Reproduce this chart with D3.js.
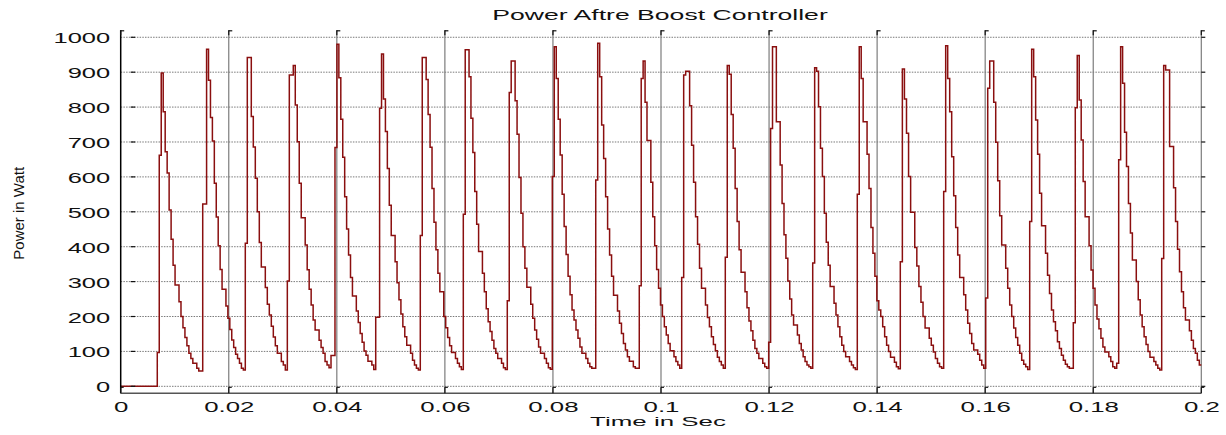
<!DOCTYPE html>
<html>
<head>
<meta charset="utf-8">
<script src="https://cdn.jsdelivr.net/npm/d3@7"></script>
<style>
  html, body { margin: 0; padding: 0; background: #fff; }
  svg { display: block; }
  text { font-family: "Liberation Sans", Arial, Helvetica, sans-serif; fill: #111; }
</style>
</head>
<body>
<svg id="chart" width="1226" height="435"></svg>
<script>
// ---------------- data ----------------
const chartTitle = "Power Aftre Boost Controller";
const xTitle = "Time in Sec";
const yTitle = "Power in Watt";
const xTicks = [0, 0.02, 0.04, 0.06, 0.08, 0.1, 0.12, 0.14, 0.16, 0.18, 0.2];
const xTickLabels = ["0", "0.02", "0.04", "0.06", "0.08", "0.1", "0.12", "0.14", "0.16", "0.18", "0.2"];
const yTicks = [0, 100, 200, 300, 400, 500, 600, 700, 800, 900, 1000];
const yTickLabels = ["0", "100", "200", "300", "400", "500", "600", "700", "800", "900", "1000"];
const endTime = 0.2;
const initialLevel = 0;
// start time (s) of each pulse
const pulseStart = [0.00677, 0.01518, 0.02306, 0.03084, 0.03966, 0.04720, 0.05545, 0.06341,
                    0.07155, 0.07988, 0.08792, 0.09598, 0.10383, 0.11190, 0.11993, 0.12808,
                    0.13633, 0.14429, 0.15232, 0.16010, 0.16824, 0.17631, 0.18471, 0.19267];
// sampled (held) power levels of each pulse, W
const p01 = [97, 662, 898, 787, 672, 611, 505, 421, 347, 290, 290, 242, 200, 168, 140, 116, 95, 80, 66, 66, 52, 44, 44];
const p02 = [522, 522, 966, 877, 770, 703, 582, 485, 403, 335, 278, 278, 230, 195, 163, 133, 111, 92, 80, 66, 52, 47];
const p03 = [410, 942, 942, 773, 686, 596, 500, 412, 342, 342, 283, 235, 204, 172, 141, 116, 95, 95, 71, 61, 47];
const p04 = [302, 892, 892, 919, 806, 701, 582, 483, 483, 405, 334, 278, 233, 190, 161, 161, 132, 111, 95, 71, 61, 53, 88, 88];
const p05 = [684, 980, 884, 765, 656, 543, 451, 376, 312, 259, 259, 216, 183, 151, 126, 101, 89, 72, 72, 61, 48];
const p06 = [198, 198, 797, 952, 823, 730, 624, 519, 432, 432, 357, 297, 248, 207, 171, 142, 118, 118, 95, 75, 61, 52, 47];
const p07 = [432, 942, 942, 879, 779, 685, 567, 470, 391, 324, 271, 271, 200, 168, 140, 116, 97, 97, 80, 66, 56, 48];
const p08 = [493, 964, 964, 887, 768, 670, 558, 464, 386, 386, 324, 271, 222, 185, 157, 132, 108, 95, 80, 80, 66, 53, 48];
const p09 = [245, 842, 932, 932, 818, 722, 598, 496, 400, 338, 284, 284, 235, 195, 161, 135, 113, 95, 95, 80, 66, 53, 49];
const p10 = [601, 973, 882, 765, 663, 550, 458, 378, 315, 262, 219, 190, 161, 138, 113, 95, 95, 80, 66, 56, 52, 52];
const p11 = [591, 983, 887, 749, 653, 543, 451, 376, 315, 261, 261, 216, 181, 151, 123, 104, 85, 72, 72, 56, 52, 52];
const p12 = [288, 882, 932, 814, 704, 704, 585, 486, 403, 335, 281, 233, 200, 171, 147, 123, 102, 102, 85, 71, 61, 52];
const p13 = [312, 892, 903, 903, 804, 691, 585, 486, 407, 338, 281, 281, 233, 197, 171, 142, 120, 102, 83, 71, 61, 52];
const p14 = [370, 919, 894, 779, 682, 567, 472, 391, 327, 327, 271, 225, 187, 159, 132, 108, 95, 80, 80, 66, 56, 52];
const p15 = [126, 739, 973, 973, 758, 758, 634, 524, 434, 367, 302, 250, 204, 176, 176, 147, 123, 104, 85, 71, 61, 56, 52];
const p16 = [353, 913, 903, 801, 682, 601, 496, 413, 347, 286, 286, 238, 204, 171, 142, 118, 100, 85, 85, 71, 61, 53, 48];
const p17 = [550, 973, 882, 758, 758, 665, 567, 455, 381, 315, 245, 219, 200, 171, 142, 118, 100, 83, 83, 69, 56, 50];
const p18 = [357, 909, 823, 725, 601, 499, 499, 398, 345, 286, 241, 200, 167, 167, 138, 118, 98, 80, 66, 56, 52];
const p19 = [558, 976, 882, 787, 658, 546, 455, 376, 312, 312, 262, 219, 181, 151, 123, 104, 104, 92, 75, 61, 52];
const p20 = [253, 854, 932, 932, 814, 699, 589, 489, 405, 405, 338, 281, 233, 200, 167, 140, 118, 95, 75, 63, 56, 48];
const p21 = [472, 966, 887, 763, 665, 553, 460, 460, 381, 318, 266, 219, 185, 159, 128, 108, 89, 75, 63, 56, 52, 52];
const p22 = [182, 798, 948, 820, 706, 587, 486, 486, 403, 333, 281, 233, 193, 165, 138, 113, 98, 98, 85, 71, 56, 52, 66];
const p23 = [649, 973, 868, 728, 630, 524, 439, 362, 362, 300, 248, 204, 171, 142, 120, 100, 83, 83, 71, 61, 52, 47];
const p24 = [366, 919, 906, 906, 687, 687, 569, 472, 393, 328, 271, 225, 190, 190, 159, 132, 108, 95, 75, 61];
const pulseLevels = [p01, p02, p03, p04, p05, p06, p07, p08, p09, p10, p11, p12,
                     p13, p14, p15, p16, p17, p18, p19, p20, p21, p22, p23, p24];

// ---------------- layout ----------------
const L = 120.7, R = 1201.3, T = 30.3, B = 393.3;
const svg = d3.select("#chart");
svg.append("rect").attr("width", 1226).attr("height", 435).attr("fill", "#fff");

const x = d3.scaleLinear().domain([0, 0.2]).range([L, R]);
const y = d3.scaleLinear().domain([-20, 1020]).range([B, T]);

// build step points
const pts = [[0, initialLevel]];
pulseLevels.forEach((lv, i) => {
  const s = pulseStart[i];
  const e = i + 1 < pulseStart.length ? pulseStart[i + 1] : endTime;
  const w = (e - s) / lv.length;
  lv.forEach((v, j) => pts.push([s + j * w, v]));
});
pts.push([endTime, pulseLevels[pulseLevels.length - 1].slice(-1)[0]]);

// horizontal grid (dotted)
svg.append("g").selectAll("line").data(yTicks).join("line")
  .attr("x1", L).attr("x2", R)
  .attr("y1", d => y(d)).attr("y2", d => y(d))
  .attr("stroke", "#7a7a7a").attr("stroke-width", 1)
  .attr("stroke-dasharray", "1.5,1.2");

// vertical grid (solid grey)
svg.append("g").selectAll("line").data(xTicks.slice(1)).join("line")
  .attr("x1", d => x(d)).attr("x2", d => x(d))
  .attr("y1", T).attr("y2", B)
  .attr("stroke", "#7c7c7c").attr("stroke-width", 1.2);

// data line
svg.append("path").datum(pts)
  .attr("fill", "none")
  .attr("stroke", "#8a0f0f")
  .attr("stroke-width", 1.5)
  .attr("d", d3.line().x(d => x(d[0])).y(d => y(d[1])).curve(d3.curveStepAfter));

// axes lines
svg.append("line").attr("x1", L).attr("x2", L).attr("y1", T).attr("y2", B)
  .attr("stroke", "#000").attr("stroke-width", 1.5);
svg.append("line").attr("x1", L).attr("x2", R).attr("y1", B).attr("y2", B)
  .attr("stroke", "#555").attr("stroke-width", 1.6);

// tick marks
const tk = svg.append("g").attr("stroke", "#111").attr("stroke-width", 1.2);
xTicks.forEach(v => {
  const px = x(v);
  tk.append("line").attr("x1", px).attr("x2", px).attr("y1", T).attr("y2", T + 5);
  tk.append("line").attr("x1", px).attr("x2", px + 3.5).attr("y1", T + 0.5).attr("y2", T + 0.5);
  tk.append("line").attr("x1", px).attr("x2", px).attr("y1", B - 6).attr("y2", B);
  tk.append("line").attr("x1", px).attr("x2", px + 3).attr("y1", B - 6).attr("y2", B - 6);
});
yTicks.forEach(v => {
  const py = y(v);
  tk.append("line").attr("x1", L + 10).attr("x2", L + 14.5).attr("y1", py).attr("y2", py);
  tk.append("line").attr("x1", R).attr("x2", R + 4).attr("y1", py).attr("y2", py);
});

// axes with labels
const yAxis = d3.axisLeft(y).tickValues(yTicks).tickFormat((d, i) => yTickLabels[i]).tickSize(0);
const gy = svg.append("g").attr("transform", `translate(${L},0)`).call(yAxis);
gy.select(".domain").remove();
gy.selectAll("text")
  .attr("x", 0).attr("dy", null)
  .attr("transform", "translate(-10.5,5.5) scale(1.7,1)")
  .style("font-size", "15px").style("fill", "#111");

const xAxis = d3.axisBottom(x).tickValues(xTicks).tickFormat((d, i) => xTickLabels[i]).tickSize(0);
const gx = svg.append("g").attr("transform", `translate(0,${B})`).call(xAxis);
gx.select(".domain").remove();
gx.selectAll("text")
  .attr("y", 0).attr("dy", null)
  .attr("transform", "translate(0,18.3) scale(1.72,1)")
  .style("font-size", "15px").style("fill", "#111");
svg.selectAll("g").attr("font-family", null);

// titles
svg.append("text").attr("text-anchor", "middle")
  .attr("transform", "translate(660,20) scale(1.9,1)")
  .style("font-size", "14px").text(chartTitle);
svg.append("text").attr("text-anchor", "middle")
  .attr("transform", "translate(658,425.5) scale(1.92,1)")
  .style("font-size", "13.5px").text(xTitle);
svg.append("text").attr("text-anchor", "middle")
  .attr("transform", "translate(24,213.3) rotate(-90)")
  .style("font-size", "15px").text(yTitle);
</script>
</body>
</html>
